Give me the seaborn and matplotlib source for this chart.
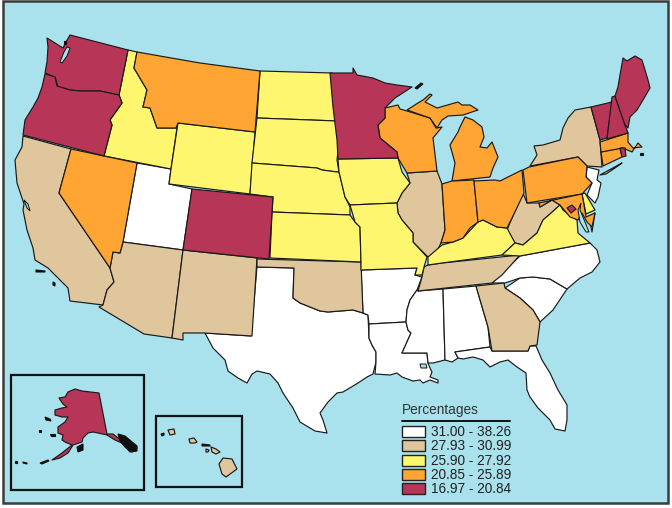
import matplotlib
matplotlib.use("Agg")
import matplotlib.pyplot as plt
from matplotlib.patches import Rectangle
import seaborn as sns

sns.set_theme(style="white")
plt.rcParams['font.family'] = ['Liberation Sans', 'DejaVu Sans']

WATER = "#A9E1EC"
bin_labels = ["31.00 - 38.26", "27.93 - 30.99", "25.90 - 27.92", "20.85 - 25.89", "16.97 - 20.84"]
bin_colors = sns.color_palette(["#FFFFFF", "#DFC69C", "#FFF66F", "#FFA533", "#B73556"])

WA = [(47,38),(55,43),(63,48),(66,42),(70,35),(128,50),(119,95),(100,91),(80,91),(70,90),(58,87),(55,77),(45,73),(47,62),(48,47)]
OR = [(45,74),(55,77),(57,86),(70,90),(80,91),(100,91),(119,95),(122,103),(110,120),(112,125),(104,156),(23,135),(25,120),(33,107),(38,98),(42,87)]
CA = [(23,136),(71,149),(59,193),(110,268),(114,282),(107,290),(103,305),(70,301),(68,288),(58,278),(48,268),(35,260),(33,248),(27,230),(23,210),(24,204),(17,183),(15,160),(22,147)]
NV = [(71,149),(137,163),(123,242),(120,253),(113,252),(110,268),(59,193)]
ID = [(128,50),(137,52),(134,68),(147,90),(143,107),(150,108),(157,128),(177,128),(171,169),(104,156),(112,125),(110,120),(122,103),(119,95)]
MT = [(137,52),(200,63),(260,71),(255,132),(178,123),(176,128),(157,128),(150,108),(143,107),(147,90),(134,68)]
WY = [(178,123),(255,132),(250,194),(169,184),(171,169)]
UT = [(137,163),(171,169),(169,184),(192,189),(183,250),(123,242)]
CO = [(192,189),(273,197),(269,259),(183,250)]
AZ = [(123,242),(183,250),(172,338),(144,334),(99,307),(103,305),(107,290),(114,282),(110,268),(113,252),(120,253)]
NM = [(183,250),(257,258),(252,336),(204,333),(183,333),(183,340),(172,338)]
TX = [(257,267),(294,268),(293,298),(300,303),(310,307),(320,311),(328,312),(340,311),(353,310),(363,313),(368,315),(369,338),(372,345),(376,352),(376,362),(373,374),(367,377),(358,383),(343,392),(337,393),(328,402),(320,413),(323,420),(327,433),(315,431),(300,422),(293,408),(283,393),(278,383),(270,374),(257,371),(252,374),(247,383),(238,378),(228,371),(225,360),(213,348),(205,333),(251,336)]
OK = [(257,259),(361,262),(363,313),(353,310),(340,311),(328,312),(320,311),(310,307),(300,303),(293,298),(294,268),(257,267)]
KS = [(270,258),(361,262),(360,227),(355,222),(350,215),(272,212)]
NE = [(252,163),(317,168),(322,170),(337,172),(339,172),(345,197),(350,207),(350,215),(272,212),(273,197),(250,194)]
SD = [(257,118),(337,121),(337,128),(340,133),(337,160),(339,172),(337,172),(322,170),(317,168),(252,163)]
ND = [(260,71),(332,73),(335,97),(337,121),(257,118)]
MN = [(330,73),(353,73),(353,68),(357,75),(373,78),(385,83),(397,85),(412,87),(395,98),(385,108),(385,118),(378,125),(380,138),(397,152),(398,158),(338,159),(337,140),(333,107)]
IA = [(338,159),(398,158),(402,172),(410,183),(402,193),(397,203),(350,205),(345,197),(339,172)]
MO = [(350,205),(397,203),(398,213),(402,220),(413,233),(413,242),(427,257),(424,267),(422,275),(415,275),(417,268),(361,270),(361,262),(360,227),(355,222)]
AR = [(361,270),(417,268),(415,275),(422,277),(417,290),(410,300),(407,310),(406,322),(369,324),(368,315),(363,313)]
LA = [(369,324),(406,322),(408,330),(411,333),(402,353),(427,353),(428,363),(430,368),(432,372),(430,377),(438,380),(438,383),(430,380),(423,383),(420,380),(413,381),(402,377),(397,373),(390,375),(375,374),(376,362),(376,352),(372,345),(369,338)]
MS = [(418,291),(443,289),(445,360),(433,363),(428,363),(427,353),(402,353),(411,333),(408,330),(406,322),(407,310),(410,300),(417,290)]
AL = [(443,289),(476,286),(488,327),(490,347),(455,352),(458,358),(452,362),(445,360)]
GA = [(476,286),(504,283),(505,288),(520,298),(533,310),(540,322),(537,345),(530,346),(528,351),(492,351),(488,327)]
FL = [(455,352),(490,347),(492,351),(528,351),(530,346),(536,346),(542,360),(550,373),(558,390),(567,405),(567,420),(565,431),(555,429),(550,420),(538,408),(530,397),(527,390),(526,373),(517,367),(508,360),(500,362),(490,367),(483,360),(473,357),(463,359),(458,358)]
SC = [(505,288),(520,278),(533,277),(550,279),(567,289),(553,310),(540,322),(533,310),(520,298)]
NC = [(492,283),(500,275),(520,256),(590,243),(597,250),(600,262),(592,272),(580,278),(567,289),(550,279),(533,277),(520,278),(505,283)]
TN = [(428,265),(442,263),(520,255),(502,275),(492,283),(418,291),(422,277),(424,267)]
KY = [(428,257),(442,245),(453,242),(463,238),(478,222),(483,220),(497,227),(507,228),(515,243),(502,255),(442,263),(428,265)]
VA = [(502,255),(515,243),(523,245),(537,233),(543,220),(550,214),(560,205),(563,210),(577,220),(578,233),(590,243),(520,256)]
WV = [(523,193),(527,203),(539,203),(540,207),(552,200),(560,205),(550,214),(543,220),(537,233),(523,245),(515,243),(507,230),(512,218)]
OH = [(474,181),(495,180),(500,181),(522,170),(524,193),(512,218),(507,228),(497,227),(483,220),(478,222)]
IN = [(442,184),(452,181),(474,180),(478,222),(470,228),(463,238),(453,242),(441,243),(445,230)]
IL = [(407,173),(437,171),(442,184),(445,230),(441,243),(435,255),(428,257),(413,242),(413,233),(402,220),(398,213),(397,203),(402,193),(410,183)]
WI = [(385,108),(398,105),(400,109),(407,111),(430,118),(436,128),(442,127),(433,138),(437,171),(407,173),(398,158),(397,152),(380,138),(378,125),(385,118)]
MI_U = [(407,110),(418,103),(423,100),(430,94),(432,95),(425,102),(437,108),(458,102),(462,105),(470,105),(478,110),(463,115),(448,116),(442,120),(437,128),(430,118)]
MI_L = [(465,117),(473,120),(482,127),(484,137),(480,147),(487,148),(492,142),(498,157),(493,168),(490,177),(452,181),(455,163),(450,145),(458,132),(460,127)]
PA = [(529,167),(578,157),(587,166),(586,177),(592,183),(582,194),(527,203),(523,170)]
NY = [(530,166),(537,155),(534,146),(543,145),(560,140),(563,128),(568,118),(575,110),(591,107),(600,140),(602,167),(587,166),(578,157)]
NY_LI = [(600,175),(622,163),(615,168),(606,174)]
VT = [(591,107),(612,102),(607,138),(600,140)]
NH = [(612,97),(615,96),(625,125),(628,133),(607,139)]
ME = [(615,96),(618,87),(620,75),(623,58),(627,61),(635,56),(642,60),(648,80),(650,88),(643,100),(637,110),(630,117),(628,128),(625,125)]
MA = [(600,142),(628,133),(628,142),(633,148),(642,147),(638,143),(632,152),(623,148),(601,152)]
CT = [(601,152),(620,148),(622,157),(603,166)]
RI = [(620,148),(625,148),(626,156),(622,157)]
NJ = [(587,167),(599,170),(597,180),(601,183),(598,197),(595,203),(587,195),(592,183),(586,177)]
MD = [(539,203),(582,194),(584,205),(586,217),(595,213),(592,227),(587,222),(582,213),(578,220),(570,217),(560,205),(552,200),(540,207)]
DE = [(582,194),(585,193),(595,210),(586,214)]
VA_E = [(595,213),(592,232),(590,222)]
DC = [(572,205),(576,209),(571,213),(567,208)]
AK = [(59,398),(65,397),(68,392),(75,389),(82,391),(99,393),(107,434),(113,434),(118,438),(132,445),(137,448),(135,451),(130,452),(122,443),(115,440),(107,435),(98,433),(93,432),(88,433),(83,438),(82,442),(73,445),(68,453),(60,458),(52,460),(62,453),(72,445),(65,442),(62,440),(63,435),(58,433),(58,427),(65,422),(68,417),(62,417),(55,415),(55,410),(62,408),(67,407),(63,404)]
HI_1 = [(168,430),(174,429),(175,434),(170,435)]
HI_2 = [(189,439),(194,438),(197,442),(195,443),(190,443)]
HI_3 = [(211,447),(216,449),(220,452),(216,454),(212,452)]
HI_4 = [(206,449),(209,450),(208,452),(206,452)]
HI_5 = [(223,458),(232,459),(237,469),(226,477),(222,474),(219,464)]

state_groups = [
    ([TX, AR, LA, MS, AL, FL, SC, NC, UT, NJ], 0),
    ([CA, AZ, NM, OK, IL, TN, GA, WV, NY, NY_LI, HI_1, HI_2, HI_3, HI_4, HI_5], 1),
    ([ID, WY, ND, SD, NE, KS, IA, MO, KY, VA, VA_E, DE], 2),
    ([MT, NV, WI, MI_U, MI_L, IN, OH, PA, MD, CT, MA], 3),
    ([WA, OR, CO, MN, VT, NH, ME, RI, DC, AK], 4),
]

# water inlets cut back over the land
inlet_puget = [(60,62),(64,52),(67,47),(70,48),(67,56),(62,63)]
inlet_sf = [(24,200),(28,204),(30,211),(27,208)]
inlet_chesapeake = [(581,203),(580,210),(585,222),(589,232),(586,232),(580,222),(578,210)]
inlet_pontchartrain = [(420,364),(426,364),(427,368),(421,368)]
inlets = [inlet_puget, inlet_sf, inlet_chesapeake, inlet_pontchartrain]

# small dark islands
isl_san_juan = [(64,41),(66,41),(66,44),(64,44)]
isl_royale = [(415,88),(421,83),(423,84),(417,89)]
isl_channel = [(36,270),(45,271),(45,272),(36,272)]
isl_channel2 = [(53,282),(55,283),(55,286),(53,285)]
isl_nantucket = [(640,153),(643,153),(643,155),(640,155)]
isl_se_ak = [(118,434),(125,436),(137,446),(137,451),(131,452),(125,447),(120,441)]
isl_kodiak = [(77,447),(83,444),(83,450),(78,452)]
isl_nunivak = [(50,434),(55,434),(55,436),(51,436)]
isl_st_law = [(45,417),(50,419),(51,421),(46,420)]
isl_st_matt = [(39,430),(41,430),(41,432),(39,432)]
isl_aleut = [(40,463),(48,460),(49,461),(42,464)]
isl_aleut2 = [(23,462),(27,463),(27,464),(23,463)]
isl_aleut3 = [(15,461),(17,461),(17,463),(15,463)]
isl_niihau = [(161,434),(164,433),(164,435),(162,436)]
isl_molokai = [(202,444),(210,445),(210,446),(202,446)]
dark_islands = [isl_san_juan, isl_royale, isl_channel, isl_channel2, isl_nantucket,
                isl_se_ak, isl_kodiak, isl_nunivak, isl_st_law, isl_st_matt,
                isl_aleut, isl_aleut2, isl_aleut3, isl_niihau, isl_molokai]

frame_xy = (3, 1)
frame_wh = (665, 502)
ak_box = (11, 375, 133, 115)
hi_box = (156, 416, 86, 71)
legend_title = "Percentages"
legend_x = 402
legend_rows_y = [426, 440, 455, 469, 483]

fig = plt.figure(figsize=(6.72, 5.08), dpi=100, facecolor="white")
ax = fig.add_axes([0, 0, 1, 1])
ax.set_xlim(0, 672)
ax.set_ylim(508, 0)
ax.axis("off")

ax.add_patch(Rectangle(frame_xy, *frame_wh, facecolor=WATER, edgecolor="#3c3c3c", linewidth=1.8, zorder=0))

EDGE = "#1a1a1a"
for polys, idx in state_groups:
    for p in polys:
        xs, ys = zip(*p)
        ax.fill(xs, ys, facecolor=bin_colors[idx], edgecolor=EDGE, linewidth=0.85, joinstyle="round", zorder=2)
for p in inlets:
    xs, ys = zip(*p)
    ax.fill(xs, ys, facecolor=WATER, edgecolor="#101010", linewidth=0.7, zorder=3)
for p in dark_islands:
    xs, ys = zip(*p)
    ax.fill(xs, ys, facecolor="#101010", edgecolor="#101010", linewidth=0.8, zorder=3)

for x, y, w, h in (ak_box, hi_box):
    ax.add_patch(Rectangle((x, y), w, h, facecolor="none", edgecolor="#111111", linewidth=1.6, zorder=4))

ax.text(legend_x, 410, legend_title, fontsize=9.8, color="#333333", va="center", ha="left")
ax.plot([402, 510], [421, 421], color="#111111", linewidth=1.4)
for y, lab, c in zip(legend_rows_y, bin_labels, bin_colors):
    ax.add_patch(Rectangle((legend_x, y), 23, 11, facecolor=c, edgecolor="#222222", linewidth=1.0))
    ax.text(431, y + 6, lab, fontsize=9.8, color="#222222", va="center", ha="left")

fig.savefig("out.png", dpi=100, facecolor="white")
